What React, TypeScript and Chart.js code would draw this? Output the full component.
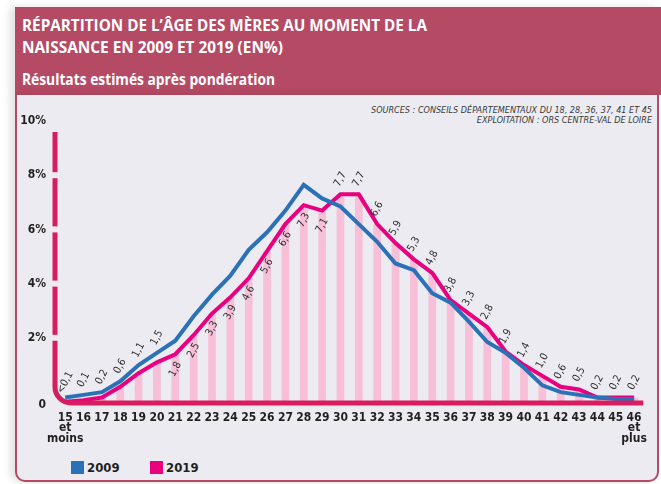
import { useEffect, useLayoutEffect, useRef } from 'react';
import { Chart, registerables } from 'chart.js';

Chart.register(...registerables);

// ---- data ----
const ageLabels: (string | string[])[] = [
  ['15', 'et', 'moins'], '16', '17', '18', '19', '20', '21', '22', '23', '24', '25',
  '26', '27', '28', '29', '30', '31', '32', '33', '34', '35', '36', '37', '38',
  '39', '40', '41', '42', '43', '44', '45', ['46', 'et', 'plus'],
];
const values2009 = [
  0.2, 0.3, 0.4, 0.8, 1.4, 1.85, 2.3, 3.2, 4.0, 4.7, 5.65, 6.3, 7.1, 8.05, 7.55,
  7.25, 6.6, 5.95, 5.15, 4.9, 4.05, 3.7, 3.0, 2.25, 1.85, 1.3, 0.65, 0.4, 0.3,
  0.2, 0.15, 0.15,
];
const values2019 = [
  0.05, 0.1, 0.2, 0.6, 1.1, 1.5, 1.8, 2.5, 3.3, 3.9, 4.6, 5.6, 6.6, 7.3, 7.1,
  7.7, 7.7, 6.6, 5.9, 5.3, 4.8, 3.8, 3.3, 2.8, 1.9, 1.4, 1.0, 0.6, 0.5, 0.2,
  0.2, 0.2,
];
const seriesNames = ['2009', '2019'];
const yMin = 0;
const yMax = 10;
const yStep = 2;

// ---- style ----
const MAROON = '#b54a64';
const AXIS_PINK = '#d81c60';
const PINK = '#e8007f';
const BLUE = '#2a71b7';
const BAR = '#f7c0d8';
const PANEL = '#ebebf1';
const TEXT = '#231f20';
const NARROW = "'DejaVu Sans Condensed', 'Liberation Sans Narrow', sans-serif";
const TITLE_FONT = "'Open Sans', 'DejaVu Sans Condensed', sans-serif";
const Y_LABEL_SHIFT = -11;

const fmt = (v: number) => (v < 0.1 ? '<0,1' : v.toFixed(1).replace('.', ','));

const axisPlugin = {
  id: 'customAxis',
  afterDatasetsDraw(chart: any) {
    const { ctx, chartArea, scales } = chart;
    const y = scales.y;
    const left = chartArea.left - 1;
    const bottom = chartArea.bottom;
    const r = 16;
    ctx.save();
    ctx.strokeStyle = AXIS_PINK;
    ctx.lineWidth = 5;
    ctx.lineCap = 'butt';
    const gaps: number[] = [];
    for (let v = yMin + yStep; v < yMax; v += yStep) gaps.push(y.getPixelForValue(v) + Y_LABEL_SHIFT);
    gaps.sort((a, b) => a - b);
    let start = chartArea.top;
    for (const g of gaps) {
      ctx.beginPath();
      ctx.moveTo(left, start);
      ctx.lineTo(left, g - 3);
      ctx.stroke();
      start = g + 3;
    }
    ctx.beginPath();
    ctx.moveTo(left, start);
    ctx.lineTo(left, bottom - r);
    ctx.arcTo(left, bottom, left + r, bottom, r);
    ctx.lineTo(chartArea.right, bottom);
    ctx.stroke();
    ctx.restore();
  },
};

const valueLabelPlugin = {
  id: 'valueLabels',
  afterDatasetsDraw(chart: any) {
    const { ctx } = chart;
    const bars = chart.getDatasetMeta(0).data;
    const blue = chart.getDatasetMeta(1).data;
    const pink = chart.getDatasetMeta(2).data;
    ctx.save();
    ctx.fillStyle = '#2e2e2e';
    ctx.font = `10.5px ${NARROW}`;
    ctx.textAlign = 'center';
    ctx.textBaseline = 'middle';
    values2019.forEach((v, i) => {
      const bar = bars[i];
      const inside = values2009[i] > v && v >= 1.7;
      const cy = inside ? bar.y + 15 : Math.min(blue[i].y, pink[i].y) - 15;
      ctx.save();
      ctx.translate(bar.x, cy);
      ctx.rotate((-62 * Math.PI) / 180);
      ctx.fillText(fmt(v), 0, 0);
      ctx.restore();
    });
    ctx.restore();
  },
};

function ChartCanvas() {
  const ref = useRef<HTMLCanvasElement>(null);
  useEffect(() => {
    if (!ref.current) return;
    const chart = new Chart(ref.current, {
      type: 'bar',
      data: {
        labels: ageLabels as any,
        datasets: [
          {
            type: 'bar',
            label: 'barres',
            data: values2019,
            backgroundColor: BAR,
            barPercentage: 0.42,
            categoryPercentage: 1,
            order: 3,
          } as any,
          {
            type: 'line',
            label: seriesNames[0],
            data: values2009,
            borderColor: BLUE,
            borderWidth: 4,
            pointRadius: 0,
            tension: 0,
            order: 1,
          },
          {
            type: 'line',
            label: seriesNames[1],
            data: values2019,
            borderColor: PINK,
            borderWidth: 4,
            pointRadius: 0,
            tension: 0,
            order: 2,
          },
        ],
      },
      options: {
        animation: false,
        responsive: false,
        maintainAspectRatio: false,
        layout: { padding: { left: 0, right: 9, top: 37, bottom: 0 } },
        plugins: { legend: { display: false }, tooltip: { enabled: false } },
        scales: {
          x: {
            offset: true,
            grid: { display: false, drawTicks: false },
            border: { display: false },
            ticks: {
              autoSkip: false,
              maxRotation: 0,
              padding: 10,
              color: TEXT,
              font: { family: NARROW, size: 12, weight: 'bold', lineHeight: 0.85 },
            },
            afterFit: (s: any) => {
              s.height = 52;
            },
          },
          y: {
            min: yMin,
            max: yMax,
            grid: { display: false, drawTicks: false },
            border: { display: false },
            ticks: {
              stepSize: yStep,
              autoSkip: false,
              padding: 10,
              labelOffset: Y_LABEL_SHIFT,
              color: TEXT,
              font: { family: NARROW, size: 12, weight: 'bold', lineHeight: 2.2 },
              callback: (v: any) => (Number(v) === 0 ? ['', '0'] : `${v}%`),
            },
            afterFit: (s: any) => {
              s.width = 39;
            },
          },
        },
      } as any,
      plugins: [axisPlugin, valueLabelPlugin],
    });
    return () => chart.destroy();
  }, []);
  return (
    <canvas
      ref={ref}
      width={640}
      height={360}
      style={{ position: 'absolute', left: 17, top: 95, width: 640, height: 360 }}
    />
  );
}

function FitText({ text, top, width, size }: { text: string; top: number; width: number; size: number }) {
  const ref = useRef<HTMLSpanElement>(null);
  useLayoutEffect(() => {
    const el = ref.current;
    if (!el) return;
    el.style.transform = 'none';
    const natural = el.getBoundingClientRect().width;
    if (natural > 0) el.style.transform = `scaleX(${width / natural})`;
  }, [text, width]);
  return (
    <span
      ref={ref}
      style={{
        position: 'absolute',
        left: 22,
        top,
        color: '#fff',
        fontFamily: TITLE_FONT,
        fontWeight: 700,
        fontSize: size,
        lineHeight: `${size}px`,
        whiteSpace: 'nowrap',
        transformOrigin: '0 0',
        display: 'inline-block',
      }}
    >
      {text}
    </span>
  );
}

export default function App() {
  return (
    <div
      style={{
        position: 'absolute',
        left: 0,
        top: 0,
        width: 661,
        height: 484,
        background: '#fff',
        overflow: 'hidden',
      }}
    >
      <div
        style={{
          position: 'absolute',
          left: 15,
          top: 7,
          width: 646,
          height: 88,
          background: MAROON,
          boxShadow: '-5px 0 8px rgba(0,0,0,0.12)',
        }}
      />
      <div
        style={{
          position: 'absolute',
          left: 15,
          top: 95,
          width: 644,
          height: 387,
          boxSizing: 'border-box',
          background: PANEL,
          borderLeft: `2px solid ${MAROON}`,
          borderRight: `2px solid ${MAROON}`,
          borderBottom: `2px solid ${MAROON}`,
          borderBottomLeftRadius: 10,
          borderBottomRightRadius: 10,
          boxShadow: '-5px 0 8px rgba(0,0,0,0.12)',
        }}
      />
      <FitText text="RÉPARTITION DE L’ÂGE DES MÈRES AU MOMENT DE LA" top={17} width={405} size={16} />
      <FitText text="NAISSANCE EN 2009 ET 2019 (EN%)" top={39} width={261} size={16} />
      <FitText text="Résultats estimés après pondération" top={71} width={253} size={16} />
      <div
        style={{
          position: 'absolute',
          right: 9,
          top: 105,
          textAlign: 'right',
          fontFamily: NARROW,
          fontStyle: 'italic',
          fontSize: 9,
          lineHeight: '10px',
          color: '#3a3a3a',
          whiteSpace: 'nowrap',
        }}
      >
        <div>SOURCES : CONSEILS DÉPARTEMENTAUX DU 18, 28, 36, 37, 41 ET 45</div>
        <div>EXPLOITATION : ORS CENTRE-VAL DE LOIRE</div>
      </div>
      <ChartCanvas />
      {[BLUE, PINK].map((c, i) => (
        <div
          key={seriesNames[i]}
          style={{
            position: 'absolute',
            left: 71 + i * 79,
            top: 460,
            display: 'flex',
            alignItems: 'center',
            fontFamily: NARROW,
            fontWeight: 700,
            fontSize: 13,
            color: TEXT,
          }}
        >
          <span style={{ width: 13, height: 13, background: c, marginRight: 3, display: 'inline-block' }} />
          <span>{seriesNames[i]}</span>
        </div>
      ))}
    </div>
  );
}
